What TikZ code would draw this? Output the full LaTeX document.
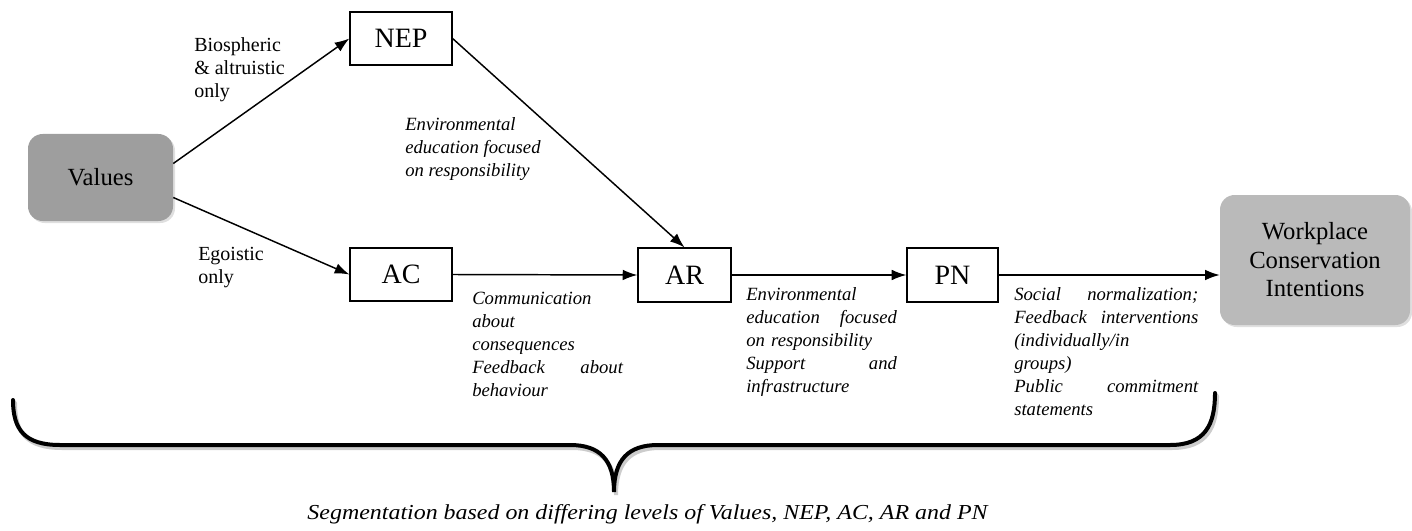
\documentclass[tikz,border=0pt]{standalone}
\usepackage{fontspec}
\usepackage{graphicx}
\setmainfont{Liberation Serif}
\usetikzlibrary{arrows.meta,calc,shadows}
\definecolor{valgray}{RGB}{158,158,158}
\definecolor{wpgray}{RGB}{186,186,186}
\begin{document}
\begin{tikzpicture}[x=0.75pt,y=-0.75pt,
  box/.style={draw=black, line width=0.9pt, fill=white, inner sep=0pt, font=\fontsize{21}{24}\selectfont},
  gbox/.style={rounded corners=11pt, inner sep=0pt, align=center, font=\fontsize{18.5}{21.4}\selectfont,
    drop shadow={opacity=0.25, shadow xshift=1.5pt, shadow yshift=-1.5pt}},
  arr/.style={line width=1.1pt, -{Latex[length=11pt,width=8pt]}},
  lbl/.style={inner sep=0pt, anchor=north west, align=left, font=\fontsize{15}{17.25}\selectfont},
  ilbl/.style={inner sep=0pt, anchor=north west, align=left, font=\fontsize{14}{17.25}\selectfont\itshape},
  bracestyle/.style={line width=3pt, line join=miter, line cap=round},
]
\useasboundingbox (0,0) rectangle (1412,531);

% main nodes
\node[gbox, fill=valgray, minimum width=108.75pt, minimum height=65.25pt] (values) at (100.5,177.5) {Values};
\node[box, minimum width=76.5pt, minimum height=39.75pt] (nep) at (401,38.5) {NEP};
\node[box, minimum width=76.5pt, minimum height=39.75pt] (ac) at (401,274.5) {AC};
\node[box, minimum width=69.75pt, minimum height=40.5pt] (ar) at (684.5,275) {AR};
\node[box, minimum width=68.25pt, minimum height=40.5pt] (pn) at (952.5,275) {PN};
\node[gbox, fill=wpgray, minimum width=142.5pt, minimum height=97.5pt] (wp) at (1315,260) {Workplace\\Conservation\\Intentions};

% connectors
\coordinate (vup) at ($(values.east)+(0,-14)$);
\coordinate (vdown) at ($(values.east)+(0,20)$);
\draw[arr] (vup) -- (nep.west);
\draw[arr] (vdown) -- (ac.west);
\draw[arr] (nep.east) -- (ar.north);
\draw[arr] (ac.east) -- (ar.west);
\draw[arr] (ar.east) -- (pn.west);
\draw[arr] (pn.east) -- (pn.east -| wp.west);

% labels
\node[lbl] (lbio) at (194,37) {Biospheric\\\& altruistic\\only};
\node[lbl] (lego) at (198,247) {Egoistic\\only};
\node[ilbl] (lenv1) at (405,117) {Environmental\\education focused\\on responsibility};
\node[ilbl, text width=113pt] (lcom) at (472,292) {Communication\\about\\consequences\\Feedback\hfill about\\behaviour};
\node[ilbl, text width=113pt] (lenv2) at (746,287) {Environmental\\education\hfill focused\\on responsibility\\Support\hfill and\\infrastructure};
\node[ilbl, text width=138pt] (lsoc) at (1014,287) {Social\hfill normalization;\\Feedback\hfill interventions\\(individually/in\\groups)\\Public\hfill commitment\\statements};

% brace
\draw[bracestyle, black, opacity=0.2] (15,403) .. controls (15,433) and (27,448) .. (62,448) -- (572,448)
  .. controls (602,448) and (616,463) .. (616,495) .. controls (616,463) and (630,448) .. (660,448)
  -- (1172,448) .. controls (1207,448) and (1217,428) .. (1217,396);
\draw[bracestyle] (13,400) .. controls (13,430) and (25,445) .. (60,445) -- (570,445)
  .. controls (600,445) and (614,460) .. (614,492) .. controls (614,460) and (628,445) .. (658,445)
  -- (1170,445) .. controls (1205,445) and (1215,425) .. (1215,393);

% caption
\node[inner sep=0pt, anchor=base] (caption) at (647.5,519) {\resizebox{510pt}{\height}{\fontsize{16}{19}\selectfont\itshape Segmentation based on differing levels of Values, NEP, AC, AR and PN}};
\end{tikzpicture}
\end{document}
